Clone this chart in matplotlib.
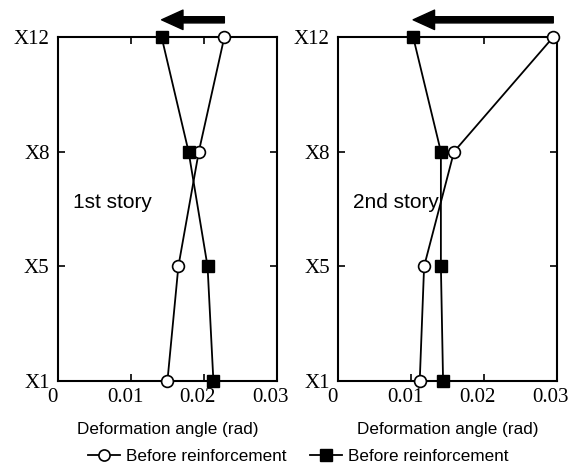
import matplotlib
matplotlib.use("Agg")
import matplotlib.pyplot as plt
import matplotlib.transforms as mtransforms
from matplotlib.lines import Line2D

# story levels (bottom to top)
levels = ["X1", "X5", "X8", "X12"]

# 1st story deformation angle (rad)
before_1st = [0.0150, 0.0165, 0.0193, 0.0228]
after_1st = [0.0213, 0.0205, 0.0179, 0.0142]

# 2nd story deformation angle (rad)
before_2nd = [0.0112, 0.0118, 0.0159, 0.0295]
after_2nd = [0.0144, 0.0141, 0.0141, 0.0103]

x_ticks = [0, 0.01, 0.02, 0.03]
x_ticklabels = ["0", "0.01", "0.02", "0.03"]
panel_labels = ["1st story", "2nd story"]

SERIF = "Liberation Serif"
SANS = "Liberation Sans"

fig = plt.figure(figsize=(5.73, 4.65), dpi=100)
ax1 = fig.add_axes([0.1012, 0.1806, 0.382, 0.7398])
ax2 = fig.add_axes([0.5899, 0.1806, 0.382, 0.7398])

ypos = list(range(len(levels)))
# x tick labels sit slightly left of their ticks in the original
shift = mtransforms.ScaledTranslation(-6 / 100, 0, fig.dpi_scale_trans)

for ax, before, after, label in [(ax1, before_1st, after_1st, panel_labels[0]),
                                 (ax2, before_2nd, after_2nd, panel_labels[1])]:
    ax.plot(before, ypos, color="black", lw=1.3, marker="o", ms=8.5,
            mfc="white", mec="black", mew=1.2, clip_on=False, zorder=3)
    ax.plot(after, ypos, color="black", lw=1.3, marker="s", ms=9,
            mfc="black", mec="black", clip_on=False, zorder=3)

    ax.set_xlim(0, 0.03)
    ax.set_ylim(0, len(levels) - 1)
    ax.tick_params(direction="in", length=5, width=1.2, top=True, right=True)
    ax.tick_params(axis="x", pad=5)
    ax.tick_params(axis="y", pad=6)
    ax.set_xticks(x_ticks)
    ax.set_xticklabels(x_ticklabels, family=SERIF, fontsize=15)
    ax.set_yticks(ypos)
    ax.set_yticklabels(levels, family=SERIF, fontsize=15)
    for t in ax.get_xticklabels():
        t.set_transform(t.get_transform() + shift)
    for sp in ax.spines.values():
        sp.set_linewidth(1.5)
    ax.set_xlabel("Deformation angle (rad)", family=SANS, fontsize=12.3, labelpad=11)

    ax.text(0.002, 0.52, label, family=SANS, fontsize=15, transform=ax.get_xaxis_transform(),
            va="center", ha="left")

    # loading direction arrow at top level: from before to after
    ax.annotate("", xy=(after[-1], 1.05), xytext=(before[-1], 1.05),
                xycoords=ax.get_xaxis_transform(), textcoords=ax.get_xaxis_transform(),
                arrowprops=dict(arrowstyle="simple,head_length=1.1,head_width=1.0,tail_width=0.32",
                                color="black", mutation_scale=14, shrinkA=0, shrinkB=0),
                annotation_clip=False)

handles = [
    Line2D([], [], color="black", lw=1.3, marker="o", ms=8, mfc="white", mec="black", mew=1.2),
    Line2D([], [], color="black", lw=1.3, marker="s", ms=8.5, mfc="black", mec="black"),
]
fig.legend(handles, ["Before reinforcement", "Before reinforcement"], loc="lower center",
           bbox_to_anchor=(0.52, -0.03), ncol=2, frameon=False, handlelength=1.9,
           handletextpad=0.3, columnspacing=1.4, prop={"family": SANS, "size": 12.3})

fig.savefig("out.png", dpi=100)
